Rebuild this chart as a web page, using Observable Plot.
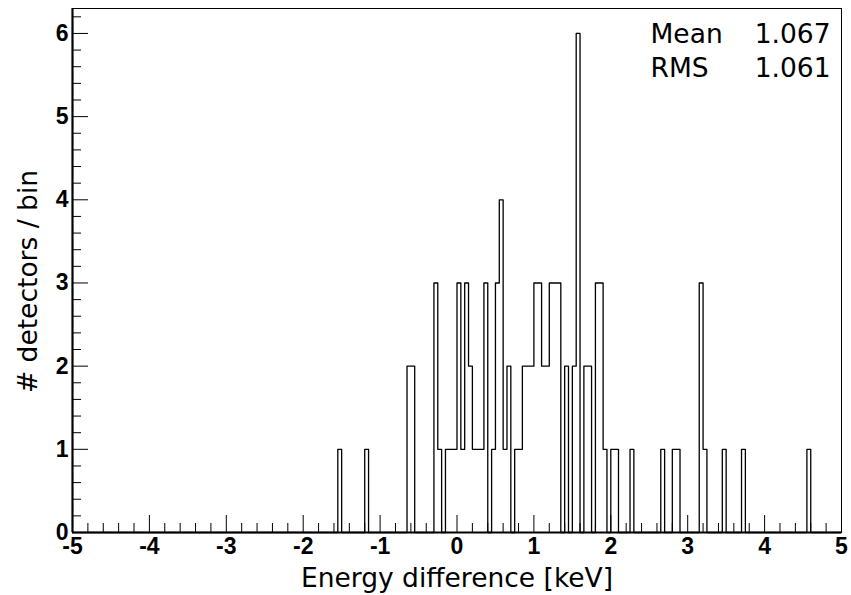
<!DOCTYPE html>
<html><head><meta charset="utf-8">
<script src="https://cdn.jsdelivr.net/npm/d3@7"></script>
<script src="https://cdn.jsdelivr.net/npm/@observablehq/plot@0.6"></script>
<style>body{margin:0;background:#fff}</style>
</head><body><div id="chart"></div>
<script>
// Histogram: lower edges (keV) of the non-empty bins and their contents; bin width 0.05 keV
const binStart = [-1.55,-1.2,-0.65,-0.6,-0.3,-0.25,-0.15,-0.1,-0.05,0.0,0.05,0.1,0.15,0.2,0.25,0.3,0.35,0.45,0.5,0.55,0.6,0.65,0.75,0.8,0.85,0.9,0.95,1.0,1.05,1.1,1.15,1.2,1.25,1.3,1.4,1.5,1.55,1.65,1.7,1.8,1.85,1.9,2.0,2.05,2.25,2.65,2.8,2.85,3.15,3.2,3.45,3.7,4.55];
const binCount = [1,1,2,2,3,1,1,1,1,3,1,3,2,1,1,1,3,1,3,4,1,2,1,1,2,2,2,3,3,2,2,3,3,3,2,2,6,2,2,3,3,1,1,1,1,1,1,1,3,1,1,1,1];
const binWidth = 0.05;
const xRange = [-5, 5];
const yRange = [0, 6.3];
const xTickLabels = ["-5","-4","-3","-2","-1","0","1","2","3","4","5"];
const yTickLabels = ["0","1","2","3","4","5","6"];
const statNames = ["Mean", "RMS"];
const statValues = ["1.067", "1.061"];
const xTitle = "Energy difference [keV]";
const yTitle = "# detectors / bin";

// full step series over all bins (empty bins are 0)
const nBins = Math.round((xRange[1] - xRange[0]) / binWidth);
const counts = new Array(nBins).fill(0);
binStart.forEach((s, i) => { counts[Math.round((s - xRange[0]) / binWidth)] = binCount[i]; });
const steps = [];
for (let i = 0; i <= nBins; i++) {
  steps.push({x: +(xRange[0] + i * binWidth).toFixed(4), y: counts[Math.min(i, nBins - 1)]});
}

const xMajor = xTickLabels.map(Number);
const yMajor = yTickLabels.map(Number);
const xMinor = d3.range(xRange[0], xRange[1] + 1e-9, 0.2).map(v => +v.toFixed(3)).filter(v => !xMajor.includes(v));
const yMinor = d3.range(0, yRange[1] + 1e-9, 0.2).map(v => +v.toFixed(3)).filter(v => !yMajor.includes(v));

const W = 851, H = 595, mL = 72, mR = 10, mT = 8, mB = 63;
const fw = W - mL - mR, fh = H - mT - mB;
const tickFont = {fontFamily: "Liberation Sans, Arial, sans-serif", fontWeight: "bold", fontSize: 23, fill: "black"};
const textFont = {fontFamily: "DejaVu Sans, sans-serif", fontSize: 26.5, fill: "black"};

const chart = Plot.plot({
  width: W, height: H,
  marginLeft: mL, marginRight: mR, marginTop: mT, marginBottom: mB,
  x: {domain: xRange, axis: null},
  y: {domain: yRange, axis: null},
  marks: [
    Plot.frame({stroke: "black", strokeWidth: 1}),
    // ticks (inward)
    Plot.tickX(xMajor, {x: d => d, stroke: "black", strokeWidth: 1, insetTop: fh - 17}),
    Plot.tickX(xMinor, {x: d => d, stroke: "black", strokeWidth: 1, insetTop: fh - 9}),
    Plot.tickY(yMajor, {y: d => d, stroke: "black", strokeWidth: 1, insetRight: fw - 16}),
    Plot.tickY(yMinor, {y: d => d, stroke: "black", strokeWidth: 1, insetRight: fw - 9}),
    // histogram outline
    Plot.line(steps, {x: "x", y: "y", curve: "step-after", stroke: "black", strokeWidth: 1.3}),
    // axis lines
    Plot.ruleX([xRange[0]], {stroke: "black", strokeWidth: 2.2}),
    Plot.ruleY([0], {stroke: "black", strokeWidth: 2.2}),
    // tick labels
    Plot.text(xTickLabels, {x: d => +d, text: d => d, frameAnchor: "bottom", lineAnchor: "bottom", dy: 21, textAnchor: "middle", ...tickFont}),
    Plot.text(yTickLabels, {y: d => +d, text: d => d, frameAnchor: "left", lineAnchor: "middle", dx: -4, textAnchor: "end", ...tickFont}),
    // axis titles
    Plot.text([xTitle], {text: d => d, frameAnchor: "bottom", lineAnchor: "bottom", dy: 54, textAnchor: "middle", ...textFont}),
    Plot.text([yTitle], {text: d => d, frameAnchor: "left", rotate: -90, lineAnchor: "middle", textAnchor: "middle", dx: -44, dy: 11, ...textFont}),
    // stats box
    Plot.text([statNames.join("\n")], {text: d => d, frameAnchor: "top-right", textAnchor: "start", lineAnchor: "top", dx: -191, dy: 10, lineHeight: 1.28, ...textFont}),
    Plot.text([statValues.join("\n")], {text: d => d, frameAnchor: "top-right", textAnchor: "end", lineAnchor: "top", dx: -11, dy: 10, lineHeight: 1.28, ...textFont})
  ]
});
document.getElementById("chart").appendChild(chart);
</script>
</body></html>
